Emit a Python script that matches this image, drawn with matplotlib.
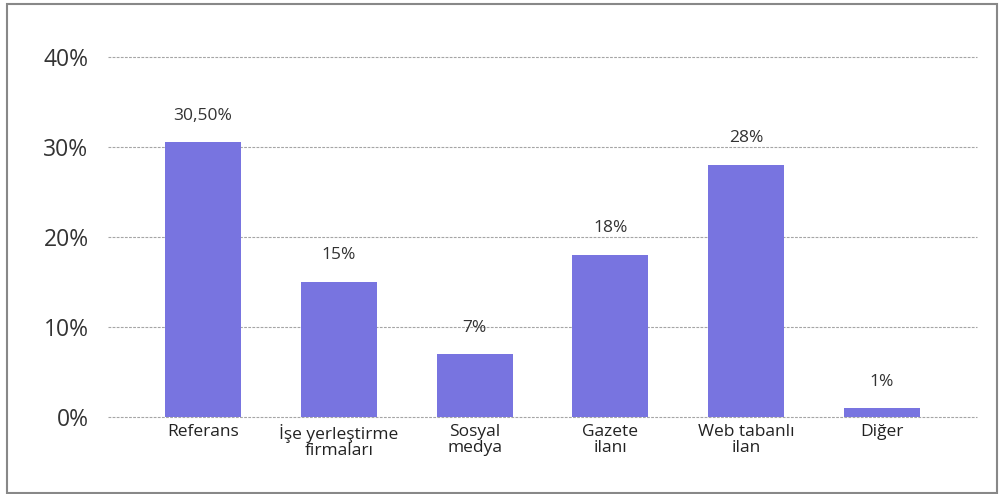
import matplotlib.pyplot as plt
from matplotlib.patches import Rectangle

categories = ["Referans", "İşe yerleştirme\nfirmaları", "Sosyal\nmedya",
              "Gazete\nilanı", "Web tabanlı\nilan", "Diğer"]
values = [30.5, 15, 7, 18, 28, 1]
value_labels = ["30,50%", "15%", "7%", "18%", "28%", "1%"]
yticks = [0, 10, 20, 30, 40]
ytick_labels = ["0%", "10%", "20%", "30%", "40%"]

plt.rcParams["font.family"] = ["Open Sans", "DejaVu Sans"]

fig = plt.figure(figsize=(10, 4.94), dpi=100)
ax = fig.add_axes([0.108, 0.156, 0.869, 0.729])

x = range(len(categories))

# dashed grid lines, drawn under the bars
for yv in yticks:
    ax.axhline(yv, color="#a5a5a5", linestyle=(0, (2.5, 1.2)), linewidth=0.8,
               zorder=1, clip_on=False)

bars = ax.bar(x, values, width=0.56, color="#7874E0", zorder=3)

for rect, lab in zip(bars, value_labels):
    ax.annotate(lab, (rect.get_x() + rect.get_width() / 2, rect.get_height()),
                xytext=(0, 19), textcoords="offset points",
                ha="center", va="center", fontsize=12.5, color="#333333")

ax.set_xlim(-0.7, 5.7)
ax.set_ylim(0, 40)
ax.set_yticks(yticks)
ax.set_yticklabels(ytick_labels, fontsize=16.5, color="#333333")
ax.set_xticks(list(x))
ax.set_xticklabels(categories, fontsize=12.5, color="#222222", linespacing=1.0)
ax.tick_params(axis="y", length=0, pad=14)
ax.tick_params(axis="x", length=0, pad=5)

for s in ax.spines.values():
    s.set_visible(False)

# outer frame
fig.patches.append(Rectangle((0.007, 0.002), 0.99, 0.99, transform=fig.transFigure,
                             fill=False, edgecolor="#888888", linewidth=1.5))

fig.savefig("out.png", dpi=100)
